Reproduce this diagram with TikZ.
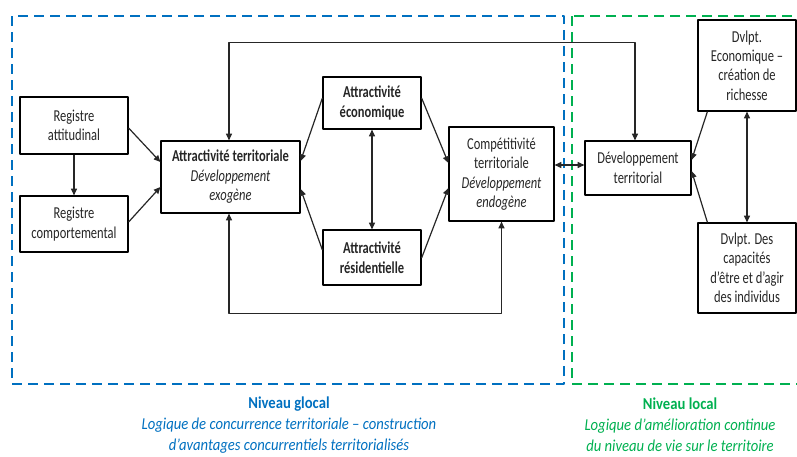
\documentclass[tikz,border=0pt]{standalone}
\usepackage{fontspec}
\newfontfamily\boxfont{Carlito}[FakeStretch=0.75]
\newfontfamily\levelfont{Carlito}[FakeStretch=0.88]
\usetikzlibrary{arrows.meta,calc}
\definecolor{glocalblue}{HTML}{0070C0}
\definecolor{localgreen}{HTML}{00B050}
\begin{document}
\begin{tikzpicture}[x=0.75pt,y=-0.75pt,line join=round,>={Triangle[length=5pt,width=4.5pt]},
	box/.style={draw,line width=0.9pt,inner sep=1pt,align=center,text=black!85,font=\boxfont\fontsize{12.5}{14.6}\selectfont},
	link/.style={->,line width=0.9pt,black!85},
	zone/.style={line width=1.6pt,dash pattern=on 7.5pt off 4.5pt},
	level/.style={align=center,font=\levelfont\fontsize{12.5}{15.75}\selectfont}]
	\useasboundingbox (0,0) rectangle (797,457);
	% zones
	\draw[zone,glocalblue] (12,16) rectangle (564,384);
	\draw[zone,localgreen] (572,16) rectangle (810,384);
	% boxes
	\node[box,minimum width=81pt,minimum height=42.75pt] (att) at (74,125.5) {Registre\\attitudinal};
	\node[box,minimum width=81pt,minimum height=42pt] (cpm) at (74,224) {Registre\\comportemental};
	\node[box,minimum width=104.25pt,minimum height=54pt] (attr) at (230.5,177) {\textbf{Attractivité territoriale}\\\textit{Développement}\\\textit{exogène}};
	\node[box,minimum width=73.5pt,minimum height=39pt] (eco) at (372,103) {\textbf{Attractivité}\\\textbf{économique}};
	\node[box,minimum width=73.5pt,minimum height=41.25pt] (res) at (372,257.5) {\textbf{Attractivité}\\\textbf{résidentielle}};
	\node[box,minimum width=78.75pt,minimum height=70.5pt] (cpt) at (501.5,174) {Compétitivité\\territoriale\\\textit{Développement}\\\textit{endogène}};
	\node[box,minimum width=79.5pt,minimum height=40.5pt] (dev) at (638,168) {Développement\\territorial};
	\node[box,minimum width=73.5pt,minimum height=68.25pt] (dec) at (747,65.5) {Dvlpt.\\Economique –\\création de\\richesse};
	\node[box,minimum width=73.5pt,minimum height=67.5pt] (dca) at (747,268) {Dvlpt. Des\\capacités\\d’être et d’agir\\des individus};
	% connectors
	\draw[link] (att) -- (cpm);
	\draw[link] ($(att.east)+(0,2.5)$) -- ($(attr.west)+(0,-15)$);
	\draw[link] ($(cpm.east)+(0,-2)$) -- ($(attr.west)+(0,10)$);
	\draw[link] ($(eco.west)+(0,-5)$) -- ($(attr.east)+(0,-16)$);
	\draw[link] ($(res.west)+(0,-7.5)$) -- ($(attr.east)+(0,12)$);
	\draw[link,<->] (eco) -- (res);
	\draw[link] ($(eco.east)+(0,-5)$) -- ($(cpt.west)+(0,-11)$);
	\draw[link] ($(res.east)+(0,0.5)$) -- ($(cpt.west)+(0,14)$);
	\draw[link,<->] ($(attr.north)+(-1.5,0)$) -- ++(0,-98) -| ($(dev.north)+(-3,0)$);
	\draw[link,<->] ($(attr.south)+(-1.5,0)$) -- ++(0,100) -| (cpt.south);
	\draw[link,<->] ($(cpt.east)+(0,-9)$) -- ($(dev.west)+(0,-3)$);
	\draw[link] ($(dec.south west)+(10,0)$) -- ($(dev.east)+(0,-8)$);
	\draw[link] ($(dca.north west)+(10,0)$) -- ($(dev.east)+(0,3)$);
	\draw[link,<->] (dec) -- (dca);
	% levels
	\node[level,text=glocalblue] (glocal) at (289,425) {\textbf{Niveau glocal}\\\textit{Logique de concurrence territoriale – construction}\\\textit{d’avantages concurrentiels territorialisés}};
	\node[level,text=localgreen] (local) at (680,425) {\textbf{Niveau local}\\\textit{Logique d’amélioration continue}\\\textit{du niveau de vie sur le territoire}};
\end{tikzpicture}
\end{document}
